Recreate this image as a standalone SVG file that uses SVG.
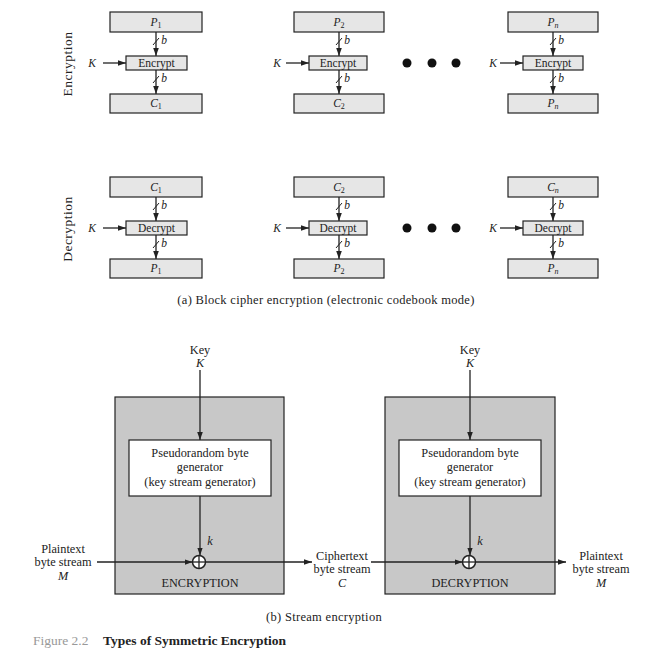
<svg xmlns="http://www.w3.org/2000/svg" width="672" height="663" viewBox="0 0 672 663">
<defs>
<marker id="ah" viewBox="0 0 10 10" refX="10" refY="5" markerWidth="8" markerHeight="8" markerUnits="userSpaceOnUse" orient="auto">
<path d="M0,1.5 L10,5 L0,8.5 z" fill="#222"/>
</marker>
</defs>
<style>
text{font-family:"Liberation Serif","Times New Roman",serif;fill:#222;}
.lbl{font-size:11.5px;text-anchor:middle;}
.sb{font-size:12.3px;}
.cap{font-size:12.5px;letter-spacing:0.3px;}
.it{font-style:italic;}
.blk{fill:#e6e6e6;stroke:#222;stroke-width:1.2;}
.gray{fill:#c8c8c8;stroke:#222;stroke-width:1.2;}
.white{fill:#fff;stroke:#222;stroke-width:1.2;}
.ln{stroke:#222;stroke-width:1.3;fill:none;}
.sl{stroke:#222;stroke-width:1;}
</style>
<rect width="672" height="663" fill="#fff"/>

<!-- side labels -->
<text class="lbl" transform="translate(72,64) rotate(-90)" style="font-size:13.5px;letter-spacing:0.5px">Encryption</text>
<text class="lbl" transform="translate(72,229) rotate(-90)" style="font-size:13.5px;letter-spacing:0.5px">Decryption</text>

<!-- Encryption row nodes -->
<g id="enc-p1"><rect class="blk" x="110" y="12" width="92" height="20"/><text class="lbl" x="156" y="26"><tspan class="it">P</tspan><tspan font-size="8" dy="2">1</tspan></text></g>
<g id="enc-e1"><rect class="blk" x="126" y="56" width="61" height="14"/><text class="lbl" x="156.5" y="67">Encrypt</text></g>
<g id="enc-c1"><rect class="blk" x="110" y="94" width="92" height="19"/><text class="lbl" x="156" y="107"><tspan class="it">C</tspan><tspan font-size="8" dy="2">1</tspan></text></g>

<g id="enc-p2"><rect class="blk" x="294" y="12" width="90" height="20"/><text class="lbl" x="339" y="26"><tspan class="it">P</tspan><tspan font-size="8" dy="2">2</tspan></text></g>
<g id="enc-e2"><rect class="blk" x="309" y="56" width="58" height="14"/><text class="lbl" x="338" y="67">Encrypt</text></g>
<g id="enc-c2"><rect class="blk" x="294" y="94" width="90" height="19"/><text class="lbl" x="339" y="107"><tspan class="it">C</tspan><tspan font-size="8" dy="2">2</tspan></text></g>

<g id="enc-pn"><rect class="blk" x="508" y="12" width="90" height="20"/><text class="lbl" x="553" y="26"><tspan class="it">P</tspan><tspan class="it" font-size="8" dy="2">n</tspan></text></g>
<g id="enc-en"><rect class="blk" x="523" y="56" width="60" height="14"/><text class="lbl" x="553" y="67">Encrypt</text></g>
<g id="enc-cn"><rect class="blk" x="508" y="94" width="90" height="19"/><text class="lbl" x="553" y="107"><tspan class="it">P</tspan><tspan class="it" font-size="8" dy="2">n</tspan></text></g>

<!-- Decryption row nodes -->
<g id="dec-c1"><rect class="blk" x="110" y="177" width="92" height="20"/><text class="lbl" x="156" y="191"><tspan class="it">C</tspan><tspan font-size="8" dy="2">1</tspan></text></g>
<g id="dec-d1"><rect class="blk" x="126" y="221" width="61" height="14"/><text class="lbl" x="156.5" y="232">Decrypt</text></g>
<g id="dec-p1"><rect class="blk" x="110" y="259" width="92" height="19"/><text class="lbl" x="156" y="272"><tspan class="it">P</tspan><tspan font-size="8" dy="2">1</tspan></text></g>

<g id="dec-c2"><rect class="blk" x="294" y="177" width="90" height="20"/><text class="lbl" x="339" y="191"><tspan class="it">C</tspan><tspan font-size="8" dy="2">2</tspan></text></g>
<g id="dec-d2"><rect class="blk" x="309" y="221" width="58" height="14"/><text class="lbl" x="338" y="232">Decrypt</text></g>
<g id="dec-p2"><rect class="blk" x="294" y="259" width="90" height="19"/><text class="lbl" x="339" y="272"><tspan class="it">P</tspan><tspan font-size="8" dy="2">2</tspan></text></g>

<g id="dec-cn"><rect class="blk" x="508" y="177" width="90" height="20"/><text class="lbl" x="553" y="191"><tspan class="it">C</tspan><tspan class="it" font-size="8" dy="2">n</tspan></text></g>
<g id="dec-dn"><rect class="blk" x="523" y="221" width="60" height="14"/><text class="lbl" x="553" y="232">Decrypt</text></g>
<g id="dec-pn"><rect class="blk" x="508" y="259" width="90" height="19"/><text class="lbl" x="553" y="272"><tspan class="it">P</tspan><tspan class="it" font-size="8" dy="2">n</tspan></text></g>

<!-- dots -->
<g id="dots" fill="#111">
<circle cx="407" cy="63" r="4.5"/><circle cx="432" cy="63" r="4.5"/><circle cx="456" cy="63" r="4.5"/>
<circle cx="407" cy="228" r="4.5"/><circle cx="432" cy="228" r="4.5"/><circle cx="456" cy="228" r="4.5"/>
</g>

<!-- K labels -->
<g id="klabels">
<text class="lbl it" x="92" y="67">K</text><text class="lbl it" x="277" y="67">K</text><text class="lbl it" x="493" y="67">K</text>
<text class="lbl it" x="92" y="232">K</text><text class="lbl it" x="277" y="232">K</text><text class="lbl it" x="493" y="232">K</text>
</g>

<!-- connectors block mode -->
<g id="connectors-a">
<line class="ln" x1="103" y1="63" x2="126" y2="63" marker-end="url(#ah)"/>
<line class="ln" x1="156" y1="32" x2="156" y2="56" marker-end="url(#ah)"/>
<line class="ln" x1="156" y1="70" x2="156" y2="94" marker-end="url(#ah)"/>
<line class="sl" x1="153" y1="45" x2="159" y2="38"/><line class="sl" x1="153" y1="83" x2="159" y2="76"/>
<text class="lbl it" x="164" y="44">b</text><text class="lbl it" x="164" y="82">b</text>
<line class="ln" x1="286" y1="63" x2="309" y2="63" marker-end="url(#ah)"/>
<line class="ln" x1="339" y1="32" x2="339" y2="56" marker-end="url(#ah)"/>
<line class="ln" x1="339" y1="70" x2="339" y2="94" marker-end="url(#ah)"/>
<line class="sl" x1="336" y1="45" x2="342" y2="38"/><line class="sl" x1="336" y1="83" x2="342" y2="76"/>
<text class="lbl it" x="347" y="44">b</text><text class="lbl it" x="347" y="82">b</text>
<line class="ln" x1="500" y1="63" x2="523" y2="63" marker-end="url(#ah)"/>
<line class="ln" x1="553" y1="32" x2="553" y2="56" marker-end="url(#ah)"/>
<line class="ln" x1="553" y1="70" x2="553" y2="94" marker-end="url(#ah)"/>
<line class="sl" x1="550" y1="45" x2="556" y2="38"/><line class="sl" x1="550" y1="83" x2="556" y2="76"/>
<text class="lbl it" x="561" y="44">b</text><text class="lbl it" x="561" y="82">b</text>
<line class="ln" x1="103" y1="228" x2="126" y2="228" marker-end="url(#ah)"/>
<line class="ln" x1="156" y1="197" x2="156" y2="221" marker-end="url(#ah)"/>
<line class="ln" x1="156" y1="235" x2="156" y2="259" marker-end="url(#ah)"/>
<line class="sl" x1="153" y1="210" x2="159" y2="203"/><line class="sl" x1="153" y1="248" x2="159" y2="241"/>
<text class="lbl it" x="164" y="209">b</text><text class="lbl it" x="164" y="247">b</text>
<line class="ln" x1="286" y1="228" x2="309" y2="228" marker-end="url(#ah)"/>
<line class="ln" x1="339" y1="197" x2="339" y2="221" marker-end="url(#ah)"/>
<line class="ln" x1="339" y1="235" x2="339" y2="259" marker-end="url(#ah)"/>
<line class="sl" x1="336" y1="210" x2="342" y2="203"/><line class="sl" x1="336" y1="248" x2="342" y2="241"/>
<text class="lbl it" x="347" y="209">b</text><text class="lbl it" x="347" y="247">b</text>
<line class="ln" x1="500" y1="228" x2="523" y2="228" marker-end="url(#ah)"/>
<line class="ln" x1="553" y1="197" x2="553" y2="221" marker-end="url(#ah)"/>
<line class="ln" x1="553" y1="235" x2="553" y2="259" marker-end="url(#ah)"/>
<line class="sl" x1="550" y1="210" x2="556" y2="203"/><line class="sl" x1="550" y1="248" x2="556" y2="241"/>
<text class="lbl it" x="561" y="209">b</text><text class="lbl it" x="561" y="247">b</text>
</g>

<text class="lbl cap" x="326" y="304">(a) Block cipher encryption (electronic codebook mode)</text>

<!-- Stream encryption -->
<g id="enc-box"><rect class="gray" x="115" y="397" width="169" height="197"/><text class="lbl sb" x="200" y="587">ENCRYPTION</text></g>
<g id="enc-gen"><rect class="white" x="129" y="440" width="142" height="56"/>
<text class="lbl sb" x="200" y="457">Pseudorandom byte</text><text class="lbl sb" x="200" y="471">generator</text><text class="lbl sb" x="200" y="486">(key stream generator)</text></g>
<g id="enc-xor"><circle cx="199" cy="562" r="6.5" fill="#fff" stroke="#222" stroke-width="1.5"/><line class="ln" x1="192.5" y1="562" x2="205.5" y2="562"/><line class="ln" x1="199" y1="555.5" x2="199" y2="568.5"/></g>

<g id="dec-box"><rect class="gray" x="385" y="397" width="170" height="197"/><text class="lbl sb" x="470" y="587">DECRYPTION</text></g>
<g id="dec-gen"><rect class="white" x="399" y="440" width="142" height="56"/>
<text class="lbl sb" x="470" y="457">Pseudorandom byte</text><text class="lbl sb" x="470" y="471">generator</text><text class="lbl sb" x="470" y="486">(key stream generator)</text></g>
<g id="dec-xor"><circle cx="469" cy="562" r="6.5" fill="#fff" stroke="#222" stroke-width="1.5"/><line class="ln" x1="462.5" y1="562" x2="475.5" y2="562"/><line class="ln" x1="469" y1="555.5" x2="469" y2="568.5"/></g>

<g id="key1"><text class="lbl sb" x="200" y="354">Key</text><text class="lbl sb it" x="200" y="367">K</text></g>
<g id="key2"><text class="lbl sb" x="470" y="354">Key</text><text class="lbl sb it" x="470" y="367">K</text></g>

<g id="pt-in"><text class="lbl sb" x="63" y="553">Plaintext</text><text class="lbl sb" x="63" y="566">byte stream</text><text class="lbl sb it" x="63" y="580">M</text></g>
<g id="ct"><text class="lbl sb" x="342" y="560">Ciphertext</text><text class="lbl sb" x="342" y="573">byte stream</text><text class="lbl sb it" x="342" y="587">C</text></g>
<g id="pt-out"><text class="lbl sb" x="601" y="560">Plaintext</text><text class="lbl sb" x="601" y="573">byte stream</text><text class="lbl sb it" x="601" y="587">M</text></g>

<g id="connectors-b">
<line class="ln" x1="200" y1="370" x2="200" y2="440" marker-end="url(#ah)"/>
<line class="ln" x1="200" y1="496" x2="200" y2="555.5" marker-end="url(#ah)"/>
<text class="lbl sb it" x="210" y="545">k</text>
<line class="ln" x1="97" y1="562" x2="192.5" y2="562" marker-end="url(#ah)"/>
<line class="ln" x1="205.5" y1="562" x2="312" y2="562" marker-end="url(#ah)"/>
<line class="ln" x1="371" y1="562" x2="462.5" y2="562" marker-end="url(#ah)"/>
<line class="ln" x1="470" y1="370" x2="470" y2="440" marker-end="url(#ah)"/>
<line class="ln" x1="470" y1="496" x2="470" y2="555.5" marker-end="url(#ah)"/>
<text class="lbl sb it" x="480" y="545">k</text>
<line class="ln" x1="475.5" y1="562" x2="566" y2="562" marker-end="url(#ah)"/>
</g>

<text class="lbl cap" x="324" y="621">(b) Stream encryption</text>
<text x="33" y="645" font-size="13.5" style="fill:#999">Figure 2.2</text>
<text x="103" y="645" font-size="13.5" font-weight="bold">Types of Symmetric Encryption</text>
</svg>
